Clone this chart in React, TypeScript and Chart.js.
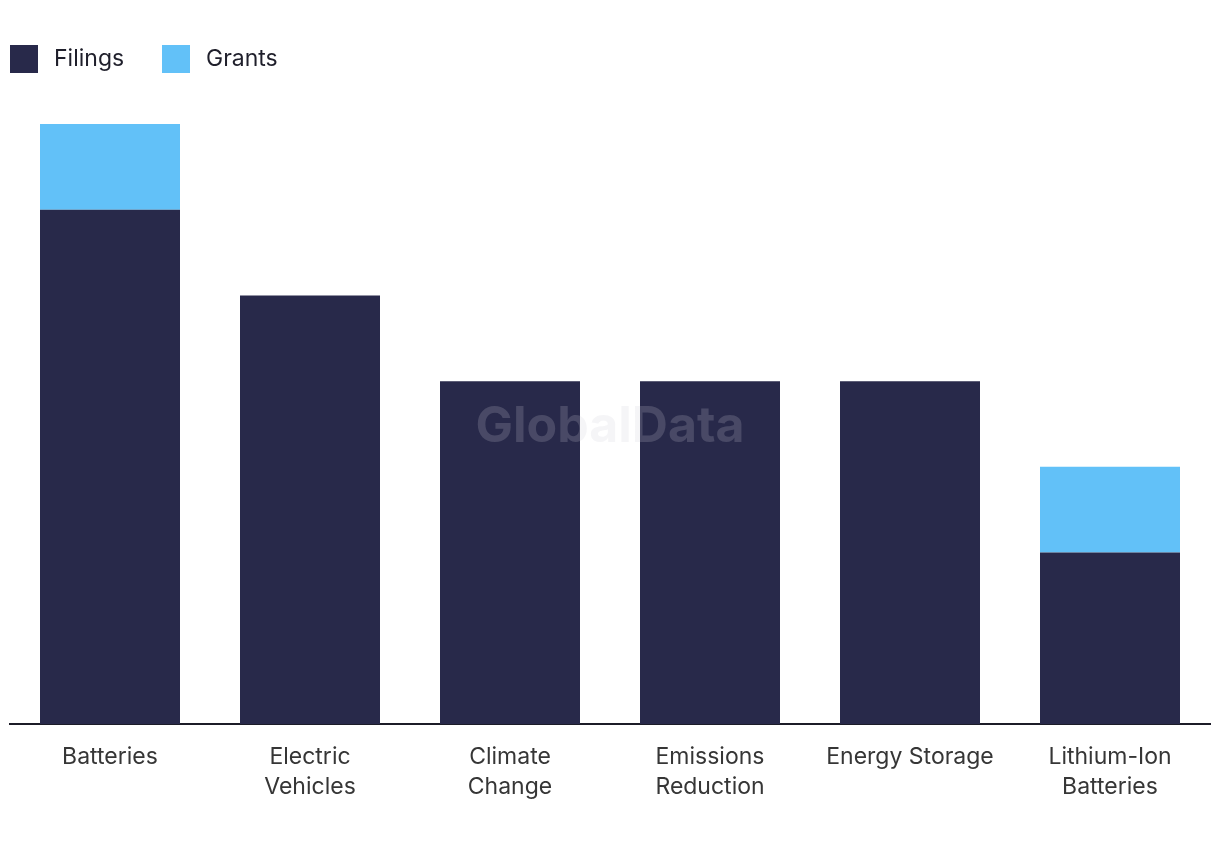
import React, { useEffect, useRef } from "react";
import { Chart, registerables } from "chart.js";

Chart.register(...registerables);

const categories: (string | string[])[] = [
  "Batteries",
  ["Electric", "Vehicles"],
  ["Climate", "Change"],
  ["Emissions", "Reduction"],
  "Energy Storage",
  ["Lithium-Ion", "Batteries"],
];
const filings = [6, 5, 4, 4, 4, 2];
const grants = [1, 0, 0, 0, 0, 1];
const seriesNames = ["Filings", "Grants"];
const seriesColors = ["#28294A", "#62C1F8"];
const FONT = "Inter, 'Noto Sans', sans-serif";

const overlayPlugin = {
  id: "overlay",
  afterDraw(chart: any) {
    const ctx = chart.ctx;
    const area = chart.chartArea;
    ctx.save();
    // watermark
    ctx.font = `bold 50px ${FONT}`;
    ctx.fillStyle = "rgba(207,207,215,0.2)";
    ctx.textAlign = "center";
    ctx.textBaseline = "middle";
    ctx.fillText("GlobalData", (area.left + area.right) / 2, 427);
    // legend
    const xs = [10, 162];
    chart.data.datasets.forEach((ds: any, i: number) => {
      ctx.fillStyle = ds.backgroundColor;
      ctx.fillRect(xs[i], 45, 28, 28);
      ctx.fillStyle = "#1f1f2b";
      ctx.font = `23px ${FONT}`;
      ctx.textAlign = "left";
      ctx.textBaseline = "middle";
      ctx.fillText(ds.label, xs[i] + 44, 59);
    });
    ctx.restore();
  },
};

export default function App() {
  const ref = useRef<HTMLCanvasElement | null>(null);
  useEffect(() => {
    if (!ref.current) return;
    const chart = new Chart(ref.current, {
      type: "bar",
      data: {
        labels: categories,
        datasets: [
          { label: seriesNames[0], data: filings, backgroundColor: seriesColors[0], barPercentage: 0.7, categoryPercentage: 1.0 },
          { label: seriesNames[1], data: grants, backgroundColor: seriesColors[1], barPercentage: 0.7, categoryPercentage: 1.0 },
        ],
      },
      options: {
        responsive: false,
        animation: false,
        layout: { padding: { left: 10, right: 10, top: 124, bottom: 30 } },
        plugins: { legend: { display: false }, tooltip: { enabled: false } },
        scales: {
          x: {
            stacked: true,
            grid: { display: false, drawTicks: false },
            border: { display: true, color: "#1c1c28", width: 2 },
            ticks: { color: "#363636", font: { family: FONT, size: 23, lineHeight: 30 / 23 }, padding: 18, maxRotation: 0, autoSkip: false },
          },
          y: {
            stacked: true,
            display: false,
            min: 0,
            max: 7,
          },
        },
      },
      plugins: [overlayPlugin],
    });
    return () => chart.destroy();
  }, []);
  return (
    <div style={{ position: "absolute", left: 0, top: 0, width: 1220, height: 850, background: "#fff" }}>
      <canvas ref={ref} width={1220} height={850} style={{ display: "block" }} />
    </div>
  );
}
